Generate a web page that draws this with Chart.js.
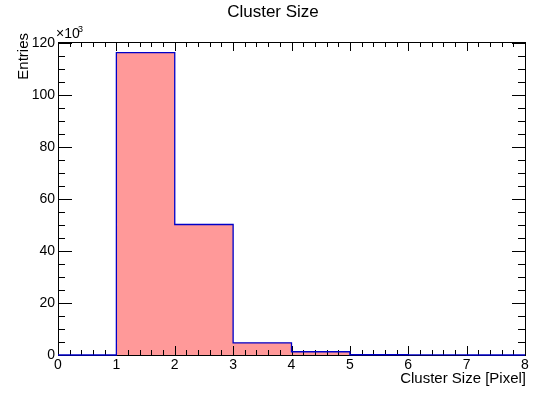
<!DOCTYPE html>
<html>
<head>
<meta charset="utf-8">
<script src="https://cdn.jsdelivr.net/npm/chart.js@4/dist/chart.umd.min.js"></script>
<style>
    html, body { margin: 0; padding: 0; background: #fff; }
    #wrap { width: 538px; height: 394px; }
</style>
</head>
<body>
<div id="wrap"><canvas id="hist"></canvas></div>
<script>
// bin edges in pixels, entries in units of 10^3
const binEdges = [0, 1, 2, 3, 4, 5, 6, 7, 8];
const entries = [0, 116.3, 50.2, 4.7, 1.25, 0.1, 0.02, 0];
const xTicks = [0, 1, 2, 3, 4, 5, 6, 7, 8];
const yTicks = [0, 20, 40, 60, 80, 100, 120];

const FONT = "'Liberation Sans', Arial, Helvetica, sans-serif";
Chart.defaults.font.family = FONT;
Chart.defaults.font.size = 14;
Chart.defaults.color = "#000";

// step outline: one point per bin low edge, plus the closing edge
const steps = entries.map((v, i) => ({ x: binEdges[i], y: v }));
steps.push({ x: binEdges[binEdges.length - 1], y: 0 });

function drawFrame(chart) {
    const ctx = chart.ctx;
    const a = chart.chartArea;
    const xs = chart.scales.x;
    const ys = chart.scales.y;

    ctx.save();
    ctx.strokeStyle = "#000";
    ctx.lineWidth = 1;
    ctx.beginPath();

    // x ticks, bottom and top
    for (let k = 0; k <= 40; k++) {
        const v = k / 5;
        const px = Math.round(xs.getPixelForValue(v)) + 0.5;
        const len = k % 5 === 0 ? 9 : 5;
        ctx.moveTo(px, a.bottom); ctx.lineTo(px, a.bottom - len);
        ctx.moveTo(px, a.top); ctx.lineTo(px, a.top + len);
    }
    // y ticks, left and right
    for (let v = 0; v <= 120; v += 5) {
        const py = Math.round(ys.getPixelForValue(v)) + 0.5;
        const major = v % 20 === 0;
        ctx.moveTo(a.left, py); ctx.lineTo(a.left + (major ? 14 : 7), py);
        ctx.moveTo(a.right, py); ctx.lineTo(a.right - (major ? 13 : 7), py);
    }
    ctx.stroke();

    ctx.strokeRect(Math.round(a.left) + 0.5, Math.round(a.top) + 0.5,
        Math.round(a.right - a.left), Math.round(a.bottom - a.top));
    ctx.restore();
}

const framePlugin = {
    id: "rootFrame",
    afterDatasetDraw(chart, args) {
        if (args.index === 1) drawFrame(chart);
    },
    afterDraw(chart) {
        const ctx = chart.ctx;
        const a = chart.chartArea;
        ctx.save();
        ctx.fillStyle = "#000";

        ctx.font = "17px " + FONT;
        ctx.textAlign = "center";
        ctx.textBaseline = "alphabetic";
        ctx.fillText("Cluster Size", 273, 17);

        ctx.font = "15px " + FONT;
        ctx.textAlign = "right";
        ctx.fillText("Cluster Size [Pixel]", a.right + 1, 383);

        ctx.translate(28, 33);
        ctx.rotate(-Math.PI / 2);
        ctx.font = "15px " + FONT;
        ctx.textAlign = "right";
        ctx.fillText("Entries", 0, 0);
        ctx.restore();

        ctx.save();
        ctx.fillStyle = "#000";
        ctx.font = "14px " + FONT;
        ctx.textAlign = "left";
        ctx.textBaseline = "alphabetic";
        ctx.fillText("\u00d710", 56, 38);
        ctx.font = "9px " + FONT;
        ctx.fillText("3", 78, 32);
        ctx.restore();
    }
};

new Chart(document.getElementById("hist"), {
    type: "line",
    data: {
        datasets: [
            {
                data: steps,
                stepped: true,
                borderColor: "#0000c8",
                borderWidth: 1.3,
                pointRadius: 0,
                fill: false,
                clip: false
            },
            {
                data: steps,
                stepped: true,
                borderWidth: 0,
                pointRadius: 0,
                backgroundColor: "#ff9999",
                fill: "origin"
            }
        ]
    },
    options: {
        responsive: true,
        maintainAspectRatio: false,
        animation: false,
        events: [],
        layout: { padding: { top: 42, right: 13, left: 0, bottom: 0 } },
        plugins: {
            legend: { display: false },
            tooltip: { enabled: false }
        },
        scales: {
            x: {
                type: "linear",
                min: 0,
                max: 8,
                grid: { display: false, drawTicks: false },
                border: { display: false },
                afterBuildTicks: s => { s.ticks = xTicks.map(v => ({ value: v })); },
                afterFit: s => { s.height = 39; },
                ticks: { padding: 2, maxRotation: 0 }
            },
            y: {
                type: "linear",
                min: 0,
                max: 120.4,
                grid: { display: false, drawTicks: false },
                border: { display: false },
                afterBuildTicks: s => { s.ticks = yTicks.map(v => ({ value: v })); },
                afterFit: s => { s.width = 58; },
                ticks: { padding: 3 }
            }
        }
    },
    plugins: [framePlugin]
});
</script>
</body>
</html>
